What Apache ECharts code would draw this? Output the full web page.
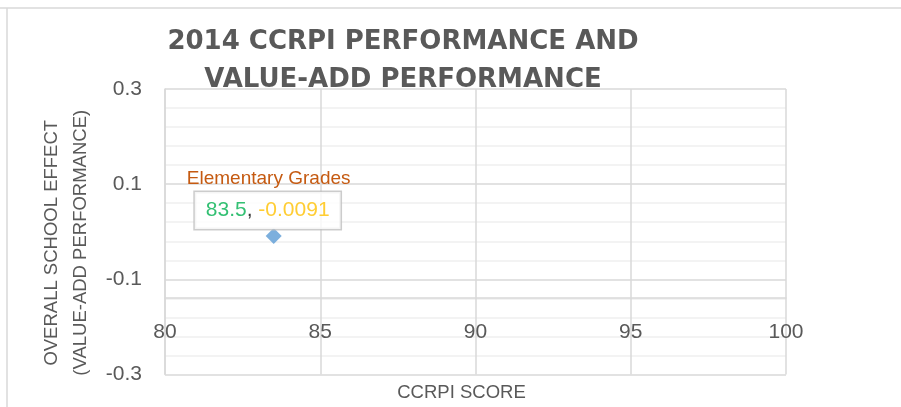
<!DOCTYPE html>
<html>
<head>
<meta charset="utf-8">
<script src="https://cdn.jsdelivr.net/npm/echarts@6/dist/echarts.min.js"></script>
<style>
  html, body { margin: 0; padding: 0; background: #fff; }
  #chart { width: 901px; height: 407px; }
</style>
</head>
<body>
<div id="chart"></div>
<script>
// data
const pointNames = ['Elementary Grades']
const ccrpiScores = [83.5]
const schoolEffects = [-0.0091]

// axis ranges
const xMin = 80, xMax = 100, xStep = 5
const yMin = -0.3, yMax = 0.3, yStep = 0.2
const xAxisCrossAt = -0.14 // horizontal axis crosses here (Excel style)

const labelFont = 'Liberation Sans, Arial, sans-serif'
const gray = '#595959'

const chart = echarts.init(document.getElementById('chart'))

const gridTop = 89, gridBottom = 31
const gridHeight = 407 - gridTop - gridBottom
// move x axis up to the crossing value
const xAxisOffset = -gridHeight * (xAxisCrossAt - yMin) / (yMax - yMin)

const points = ccrpiScores.map((x, i) => ({ name: pointNames[i], value: [x, schoolEffects[i]] }))

chart.setOption({
  animation: false,
  backgroundColor: '#fff',
  title: {
    text: '2014 CCRPI PERFORMANCE AND\nVALUE-ADD PERFORMANCE',
    left: 398,
    top: 18,
    textAlign: 'center',
    textStyle: {
      fontFamily: 'DejaVu Sans',
      fontWeight: 'bold',
      fontSize: 26,
      lineHeight: 38,
      color: gray
    }
  },
  graphic: [
    // chart area border (top & left edges visible)
    { type: 'line', shape: { x1: 0, y1: 8, x2: 901, y2: 8 }, style: { stroke: '#d9d9d9', lineWidth: 1.5 } },
    { type: 'line', shape: { x1: 7, y1: 8, x2: 7, y2: 407 }, style: { stroke: '#d9d9d9', lineWidth: 1.5 } }
  ],
  grid: {
    left: 165,
    right: 115,
    top: gridTop,
    bottom: gridBottom
  },
  xAxis: {
    type: 'value',
    min: xMin,
    max: xMax,
    interval: xStep,
    offset: xAxisOffset,
    name: 'CCRPI SCORE',
    nameLocation: 'middle',
    nameGap: 85,
    nameTextStyle: {
      fontFamily: labelFont,
      fontSize: 18.5,
      color: gray,
      padding: [0, 28, 0, 0]
    },
    axisLine: { show: true, onZero: false, lineStyle: { color: '#d9d9d9', width: 1.5 } },
    axisTick: { show: false },
    axisLabel: {
      fontFamily: labelFont,
      fontSize: 21,
      color: gray,
      margin: 24
    },
    splitLine: { show: true, lineStyle: { color: '#d9d9d9', width: 1.5 } }
  },
  yAxis: {
    type: 'value',
    min: yMin,
    max: yMax,
    interval: yStep,
    name: 'OVERALL SCHOOL EFFECT\n(VALUE-ADD PERFORMANCE)',
    nameLocation: 'middle',
    nameRotate: 90,
    nameGap: 65,
    nameTextStyle: {
      fontFamily: labelFont,
      fontSize: 18.5,
      lineHeight: 29,
      color: gray,
      padding: [0, 22, 0, 0]
    },
    axisLine: { show: true, lineStyle: { color: '#d9d9d9', width: 1.5 } },
    axisTick: { show: false },
    axisLabel: {
      fontFamily: labelFont,
      fontSize: 21,
      color: gray,
      margin: 23,
      formatter: v => v.toFixed(1)
    },
    splitLine: { show: true, lineStyle: { color: '#d9d9d9', width: 1.5 } },
    minorTick: { show: false, splitNumber: 5 },
    minorSplitLine: { show: true, lineStyle: { color: '#f0f0f0', width: 1.5 } }
  },
  series: [
    {
      type: 'scatter',
      name: 'Schools',
      symbol: 'diamond',
      symbolSize: 16,
      itemStyle: { color: '#5B9BD5' },
      data: points,
      label: {
        show: true,
        position: 'top',
        distance: -1,
        offset: [-6, 0],
        formatter: p => '{x|' + p.value[0] + '}{c|, }{y|' + p.value[1] + '}',
        backgroundColor: '#fff',
        borderColor: '#bfbfbf',
        borderWidth: 1.5,
        padding: [8, 11, 8, 11],
        rich: {
          x: { fontFamily: labelFont, fontSize: 21, color: '#00B050', lineHeight: 21 },
          c: { fontFamily: labelFont, fontSize: 21, color: '#000', lineHeight: 21 },
          y: { fontFamily: labelFont, fontSize: 21, color: '#FFC000', lineHeight: 21 }
        }
      },
      markPoint: {
        symbol: 'circle',
        symbolSize: 0,
        silent: true,
        label: {
          show: true,
          position: 'inside',
          offset: [-5, -57],
          formatter: p => p.name,
          fontFamily: labelFont,
          fontSize: 19,
          color: '#C55A11'
        },
        data: points.map(p => ({ name: p.name, coord: p.value }))
      }
    }
  ]
})
</script>
</body>
</html>
